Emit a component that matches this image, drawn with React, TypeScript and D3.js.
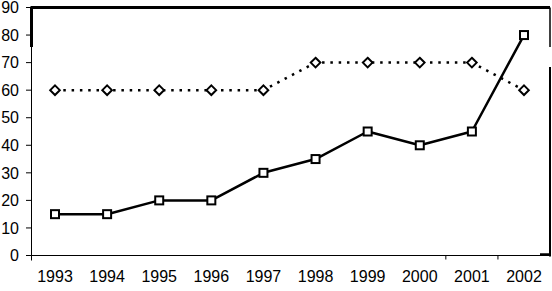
import React from "react";
import * as d3 from "d3";

const years = ["1993", "1994", "1995", "1996", "1997", "1998", "1999", "2000", "2001", "2002"];
const solidSeries = [15, 15, 20, 20, 30, 35, 45, 40, 45, 80];
const dottedSeries = [60, 60, 60, 60, 60, 70, 70, 70, 70, 60];
const yTicks = [0, 10, 20, 30, 40, 50, 60, 70, 80, 90];

const W = 552;
const H = 291;
const FONT = "'Liberation Sans', Arial, sans-serif";

export default function App() {
  const x = d3.scalePoint<string>().domain(years).range([55, 524]);
  const step = x.step();
  const y = d3.scaleLinear().domain([0, 90]).range([255.5, 7.5]);

  const left = 31.5;
  const right = 550;
  const bottom = y(0);
  const top = y(90);

  const lineGen = d3
    .line<number>()
    .x((_, i) => x(years[i]) as number)
    .y((d) => y(d));

  // boundary ticks seen only at the last two category boundaries
  const boundaryTicks = [years[7], years[8]].map((yr) => (x(yr) as number) + step / 2);

  return (
    <svg
      width={W}
      height={H}
      style={{ position: "absolute", left: 0, top: 0, background: "#fff" }}
      fontFamily={FONT}
    >
      <rect x={0} y={0} width={W} height={H} fill="#fff" />
      {/* frame */}
      <line x1={left - 1} x2={right} y1={top} y2={top} stroke="#000" strokeWidth={3} />
      <line x1={left} x2={left} y1={top} y2={47} stroke="#000" strokeWidth={3} />
      <line x1={left} x2={left} y1={47} y2={bottom + 5} stroke="#000" strokeWidth={1} />
      <line x1={right} x2={right} y1={top} y2={47} stroke="#000" strokeWidth={1.5} />
      <line x1={right} x2={right} y1={67} y2={bottom + 1} stroke="#000" strokeWidth={2} />
      {/* x axis */}
      <line x1={26} x2={right} y1={bottom} y2={bottom} stroke="#000" strokeWidth={1} />
      <line x1={540} x2={right} y1={bottom - 1} y2={bottom - 1} stroke="#000" strokeWidth={2.5} />
      {boundaryTicks.map((bx, i) => (
        <line key={i} x1={bx} x2={bx} y1={bottom} y2={bottom + 4} stroke="#000" strokeWidth={1} />
      ))}
      {/* y ticks and labels */}
      {yTicks.map((t) => (
        <g key={t}>
          <line x1={26} x2={left} y1={y(t)} y2={y(t)} stroke="#000" strokeWidth={1} />
          <text x={19} y={y(t)} dy="0.36em" textAnchor="end" fontSize={16} fill="#000">
            {t}
          </text>
        </g>
      ))}
      {/* x labels */}
      {years.map((yr) => (
        <text key={yr} x={x(yr) as number} y={282} textAnchor="middle" fontSize={16} fill="#000">
          {yr}
        </text>
      ))}
      {/* dotted series */}
      <path
        d={lineGen(dottedSeries) || ""}
        fill="none"
        stroke="#000"
        strokeWidth={2.5}
        strokeDasharray="2.5 5.8"
      />
      {/* solid series */}
      <path d={lineGen(solidSeries) || ""} fill="none" stroke="#000" strokeWidth={2.5} strokeLinejoin="round" />
      {/* diamond markers */}
      {dottedSeries.map((v, i) => {
        const cx = x(years[i]) as number;
        const cy = y(v);
        const r = 4.8;
        return (
          <path
            key={"d" + i}
            d={`M${cx},${cy - r}L${cx + r},${cy}L${cx},${cy + r}L${cx - r},${cy}Z`}
            fill="#fff"
            stroke="#000"
            strokeWidth={2}
          />
        );
      })}
      {/* square markers */}
      {solidSeries.map((v, i) => {
        const cx = x(years[i]) as number;
        const cy = y(v);
        const s = 8;
        return (
          <rect
            key={"s" + i}
            x={cx - s / 2}
            y={cy - s / 2}
            width={s}
            height={s}
            fill="#fff"
            stroke="#000"
            strokeWidth={2}
          />
        );
      })}
    </svg>
  );
}
